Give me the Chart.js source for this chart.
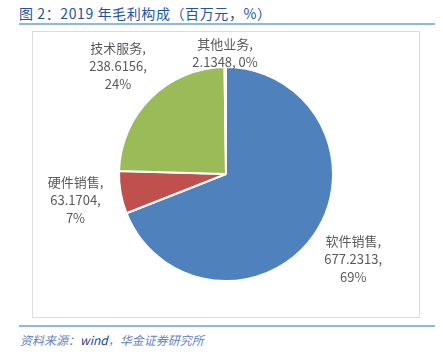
<!DOCTYPE html>
<html>
<head>
<meta charset="utf-8">
<script src="https://cdn.jsdelivr.net/npm/chart.js@4"></script>
<style>
  html,body{margin:0;padding:0;background:#fff;}
  #wrap{position:relative;width:443px;height:357px;overflow:hidden;font-family:"Noto Sans CJK SC","Noto Sans",sans-serif;}
  #title{position:absolute;left:19px;top:3px;font-size:14px;line-height:20px;color:#2255A0;white-space:nowrap;letter-spacing:0.6px;}
  #tline{position:absolute;left:19px;top:23px;width:416px;height:2px;background:#8DB9DE;}
  #box{position:absolute;left:32px;top:31px;width:386px;height:285px;border:1px solid #DCDCDC;}
  #bline{position:absolute;left:19px;top:325px;width:416px;height:2px;background:#8DB9DE;}
  #src{position:absolute;left:20px;top:331px;font-size:12px;line-height:18px;font-style:italic;color:#5F84C2;white-space:nowrap;}
  #src b{font-weight:normal;color:#1F3F8F;}
  canvas{position:absolute;left:0;top:0;}
</style>
</head>
<body>
<div id="wrap">
  <div id="title">图 2：2019 年毛利构成（百万元，%）</div>
  <div id="tline"></div>
  <div id="box"></div>
  <div id="bline"></div>
  <div id="src">资料来源：<b>wind</b>，华金证券研究所</div>
  <canvas id="c" width="443" height="357"></canvas>
</div>
<script>
const categories = ["软件销售", "硬件销售", "技术服务", "其他业务"];
const values = [677.2313, 63.1704, 238.6156, 2.1348];
const valueLabels = ["677.2313", "63.1704", "238.6156", "2.1348"];
const percentLabels = ["69%", "7%", "24%", "0%"];
const colors = ["#4F81BD", "#C0504D", "#9BBB59", "#8064A2"];

const labelPlugin = {
  id: 'pieLabels',
  afterDatasetsDraw(chart, args, opts) {
    const ctx = chart.ctx;
    const meta = chart.getDatasetMeta(0);
    ctx.save();
    ctx.font = opts.font;
    ctx.fillStyle = opts.color;
    ctx.textAlign = 'center';
    ctx.textBaseline = 'middle';
    meta.data.forEach((arc, i) => {
      const p = arc.getProps(['x','y','startAngle','endAngle','outerRadius'], true);
      const mid = (p.startAngle + p.endAngle) / 2;
      const lines = opts.singleLine[i]
        ? [categories[i] + ",", valueLabels[i] + ", " + percentLabels[i]]
        : [categories[i] + ",", valueLabels[i] + ",", percentLabels[i]];
      const lh = opts.lineHeight;
      const h = lines.length * lh;
      let w = 0;
      lines.forEach(l => { w = Math.max(w, ctx.measureText(l).width); });
      const r = p.outerRadius + opts.gap[i];
      const cx = p.x + Math.cos(mid) * r + Math.cos(mid) * w / 2;
      const cy = p.y + Math.sin(mid) * r + Math.sin(mid) * h / 2;
      lines.forEach((l, k) => {
        ctx.fillText(l, cx, cy - h / 2 + lh * (k + 0.5));
      });
    });
    ctx.restore();
  }
};

new Chart(document.getElementById('c'), {
  type: 'pie',
  data: {
    labels: categories,
    datasets: [{
      data: values,
      backgroundColor: colors,
      borderColor: '#ffffff',
      borderWidth: 2
    }]
  },
  options: {
    responsive: false,
    animation: false,
    layout: { padding: { left: 118, right: 109, top: 66, bottom: 75 } },
    plugins: {
      legend: { display: false },
      tooltip: { enabled: false },
      pieLabels: {
        font: '13px "Noto Sans CJK SC", "Noto Sans", sans-serif',
        color: '#5A5A5A',
        lineHeight: 18,
        gap: [18, 18, 18, -4],
        singleLine: [false, false, false, true]
      }
    }
  },
  plugins: [labelPlugin]
});
</script>
</body>
</html>
